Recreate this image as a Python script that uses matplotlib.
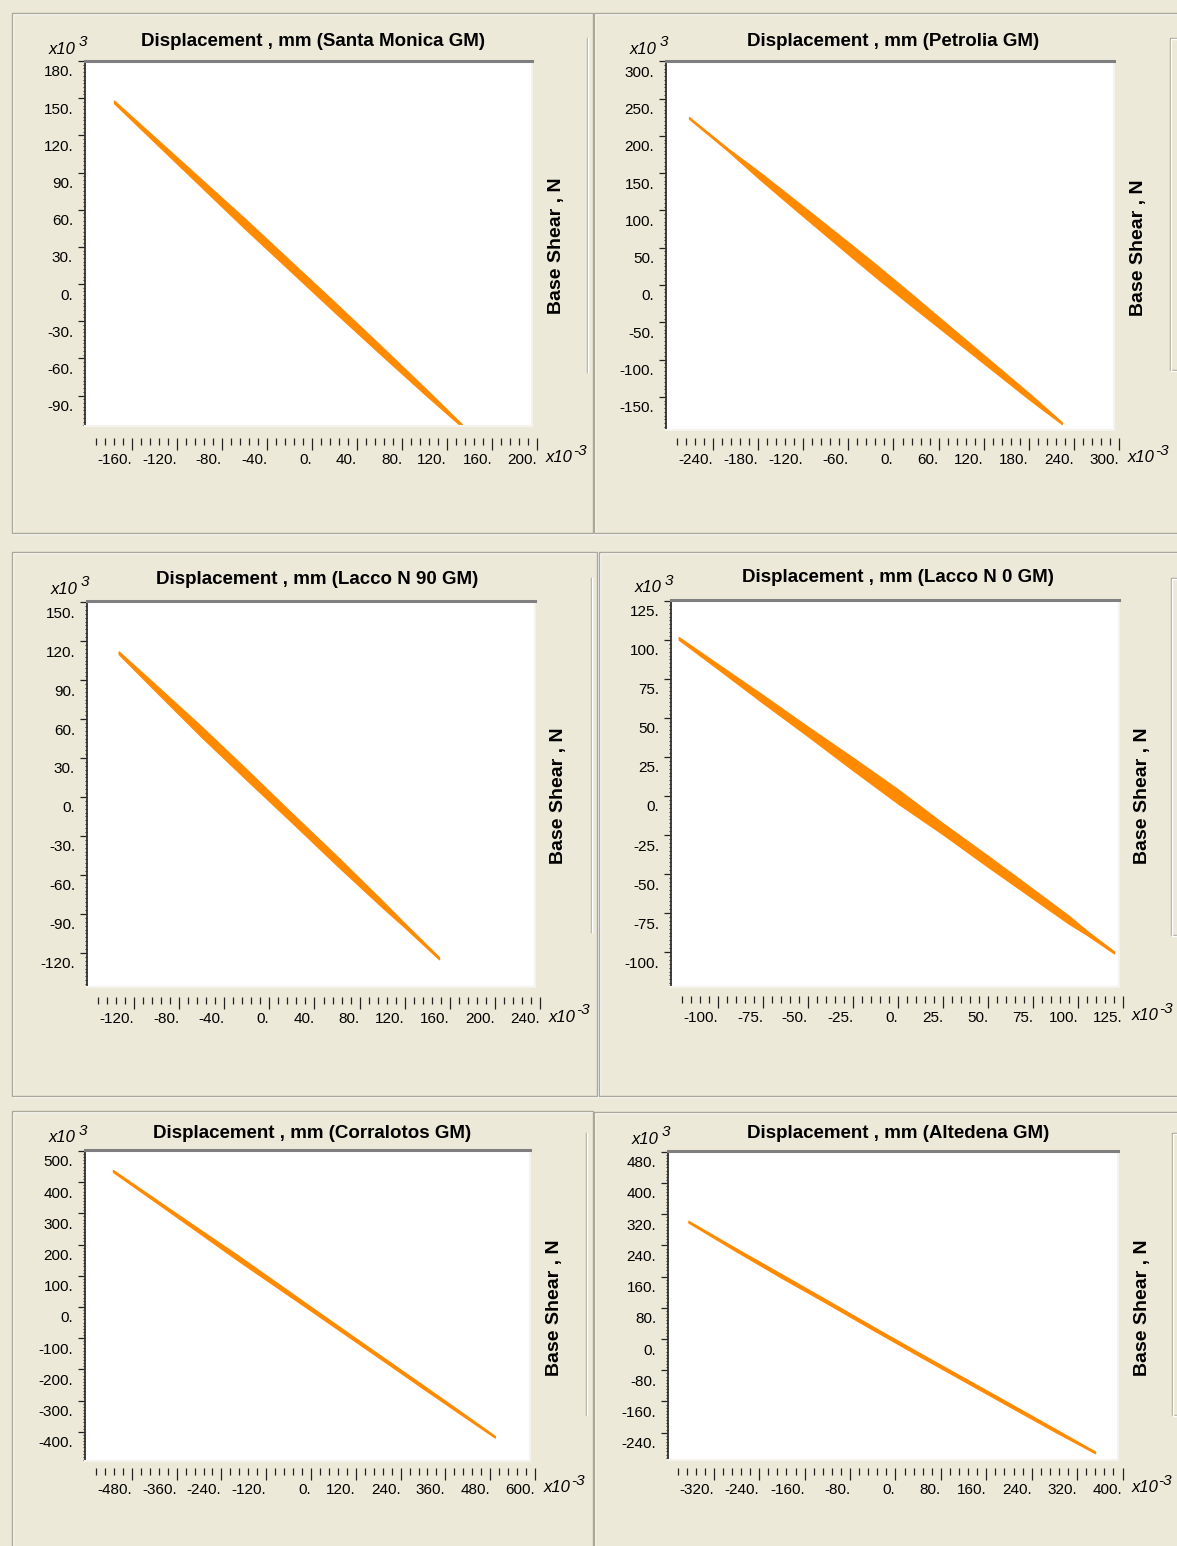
import matplotlib.pyplot as plt
import matplotlib.transforms as mtransforms
from matplotlib.patches import Rectangle
from matplotlib.ticker import MultipleLocator

W, H = 1177, 1546
BG = '#ece9d8'
ORANGE = '#ff8a00'
FONT = 'Liberation Sans'

gm_names = ['Santa Monica', 'Petrolia', 'Lacco N 90', 'Lacco N 0', 'Corralotos', 'Altedena']

# base shear ticks (x10^3) and displacement ticks (x10^-3)
shear_ticks = [
    [-90, -60, -30, 0, 30, 60, 90, 120, 150, 180],
    [-150, -100, -50, 0, 50, 100, 150, 200, 250, 300],
    [-120, -90, -60, -30, 0, 30, 60, 90, 120, 150],
    [-100, -75, -50, -25, 0, 25, 50, 75, 100, 125],
    [-400, -300, -200, -100, 0, 100, 200, 300, 400, 500],
    [-240, -160, -80, 0, 80, 160, 240, 320, 400, 480],
]
disp_ticks = [
    [-160, -120, -80, -40, 0, 40, 80, 120, 160, 200],
    [-240, -180, -120, -60, 0, 60, 120, 180, 240, 300],
    [-120, -80, -40, 0, 40, 80, 120, 160, 200, 240],
    [-100, -75, -50, -25, 0, 25, 50, 75, 100, 125],
    [-480, -360, -240, -120, 0, 120, 240, 360, 480, 600],
    [-320, -240, -160, -80, 0, 80, 160, 240, 320, 400],
]

# hysteresis bands: displacement, upper / lower base shear edge
santa_disp = [-176, -140, -100, -60, -20, 20, 60, 100, 133]
santa_hi = [148, 118.6, 85.8, 53.0, 19.2, -14.6, -48.9, -83.7, -113]
santa_lo = [146, 114.6, 79.8, 45.0, 11.2, -22.6, -55.9, -88.7, -115]

petrolia_disp = [-272, -220, -200, -180, -140, -100, -60, -20, 20, 60, 100, 140, 180, 204, 224]
petrolia_hi = [225, 182.6, 167.6, 152.6, 121.1, 89.1, 57.1, 24.6, -8.9, -42.9, -76.9, -110.9, -144.9, -166.2, -184.2]
petrolia_lo = [223, 179.6, 161.6, 143.6, 109.1, 75.1, 41.1, 7.6, -24.9, -56.9, -88.9, -120.9, -152.9, -171.2, -186.2]

lacco90_disp = [-133.7, -100, -60, -20, 20, 60, 100, 120, 150.4]
lacco90_hi = [112, 85.6, 54.0, 21.0, -12.6, -45.7, -79.8, -97.3, -123.2]
lacco90_lo = [110, 80.6, 46.0, 13.0, -19.6, -52.7, -84.8, -100.3, -124.8]

lacco0_disp = [-121.8, -100, -75, -50, -25, 0, 25, 50, 75, 95, 105, 120]
lacco0_hi = [101.8, 84.4, 64.6, 44.3, 24.5, 4.2, -17.6, -38.4, -59.7, -76.9, -86.5, -99.6]
lacco0_lo = [100.2, 81.4, 59.6, 38.3, 16.5, -4.8, -24.6, -45.4, -65.7, -81.9, -89.0, -100.8]

corral_disp = [-530.7, -400, -300, -200, -100, 0, 100, 200, 300, 400, 492.3]
corral_hi = [438.9, 331.6, 249.8, 168.6, 84.3, 0, -83.8, -167.5, -250.8, -335.0, -413.3]
corral_lo = [432.9, 322.6, 237.8, 152.6, 70.3, -12.0, -94.8, -177.5, -260.8, -343.0, -418.3]

alted_disp = [-364.8, -280, -200, -120, -40, 40, 120, 200, 280, 351.6]
alted_hi = [302.8, 231.5, 165.5, 99, 32, -34, -99, -164, -229.5, -288.4]
alted_lo = [298.8, 224.5, 156.5, 91, 24, -42, -107, -172, -236.5, -292.4]

bands = [
    (santa_disp, santa_hi, santa_lo),
    (petrolia_disp, petrolia_hi, petrolia_lo),
    (lacco90_disp, lacco90_hi, lacco90_lo),
    (lacco0_disp, lacco0_hi, lacco0_lo),
    (corral_disp, corral_hi, corral_lo),
    (alted_disp, alted_hi, alted_lo),
]

# layout in pixels (left, top, right, bottom)
boxes = [(85, 61, 532, 426), (666, 61, 1114, 430), (87, 601, 535, 987),
         (671, 600, 1119, 987), (85, 1150, 530, 1461), (668, 1151, 1118, 1460)]
ylims = [(-114.6, 180), (-194.4, 300.3), (-146.2, 150.8),
         (-122.4, 125.6), (-493.6, 503), (-310, 482)]
rulers = [(96, 537, 438), (677, 1119, 438), (98, 540, 997),
          (682, 1123, 996), (96, 535, 1468), (677.5, 1122.5, 1468)]
title_pos = [(313, 41), (893, 41), (317, 580), (898, 578), (312, 1134), (898, 1134)]
frames = [(12, 13, 593, 533), (594, 13, 1195, 533), (12, 552, 597, 1096),
          (599, 552, 1195, 1096), (12, 1111, 593, 1570), (594, 1112, 1195, 1570)]
side_boxes = [(587, 38, 372), (1170, 38, 370), (591, 578, 932),
              (1171, 578, 935), (586, 1133, 1415), (1172, 1133, 1415)]

fig = plt.figure(figsize=(W / 100, H / 100), dpi=100, facecolor=BG)

bg = fig.add_axes([0, 0, 1, 1], zorder=-1)
bg.set_xlim(0, W)
bg.set_ylim(H, 0)
bg.axis('off')

# etched group boxes
for (x0, y0, x1, y1) in frames:
    bg.add_patch(Rectangle((x0 + 1, y0 + 1), x1 - x0, y1 - y0, fill=False, ec='white', lw=1))
    bg.add_patch(Rectangle((x0, y0), x1 - x0, y1 - y0, fill=False, ec='#aca899', lw=1))
for i, (x, y0, y1) in enumerate(side_boxes):
    if i % 2 == 0:
        bg.plot([x, x], [y0, y1], color='#aca899', lw=1)
        bg.plot([x + 1, x + 1], [y0, y1], color='white', lw=1)
    else:
        bg.add_patch(Rectangle((x, y0), 40, y1 - y0, fill=False, ec='#aca899', lw=1))
        bg.add_patch(Rectangle((x + 1, y0 + 1), 40, y1 - y0, fill=False, ec='white', lw=1))

down = mtransforms.ScaledTranslation(0, -10 / 100, fig.dpi_scale_trans)

for i in range(6):
    l, t, r, b = boxes[i]
    r0, r1, ry = rulers[i]
    step = disp_ticks[i][1] - disp_ticks[i][0]
    v0 = disp_ticks[i][0] - 4 * step / 5
    v1 = disp_ticks[i][-1]
    s = (r1 - r0) / (v1 - v0)

    ax = fig.add_axes([l / W, 1 - b / H, (r - l) / W, (b - t) / H])
    ax.set_facecolor('white')
    ax.set_xlim(v0 + (l - r0) / s, v0 + (r - r0) / s)
    ax.set_ylim(*ylims[i])
    disp, hi, lo = bands[i]
    ax.fill_between(disp, lo, hi, color=ORANGE, lw=1.0)

    ax.set_xticks([])
    yt = shear_ticks[i]
    ax.set_yticks(yt, labels=[f'{v}.' for v in yt])
    ax.yaxis.set_minor_locator(MultipleLocator((yt[1] - yt[0]) / 10))
    ax.tick_params(axis='y', which='major', length=5, width=0.9, color='#222222',
                   pad=3.6, labelsize=11)
    ax.tick_params(axis='y', which='minor', length=1.6, width=0.8, color='#333333')
    for lbl in ax.get_yticklabels():
        lbl.set_family(FONT)
        lbl.set_transform(lbl.get_transform() + down)
    ax.spines['top'].set_color('#7f7f7f')
    ax.spines['top'].set_linewidth(2.2)
    ax.spines['left'].set_color('#303030')
    ax.spines['left'].set_linewidth(1.3)
    ax.spines['right'].set_color('#f4f3ee')
    ax.spines['bottom'].set_color('#f4f3ee')
    ax.spines['right'].set_linewidth(1.5)
    ax.spines['bottom'].set_linewidth(1.5)

    # detached displacement scale under the plot
    rax = fig.add_axes([r0 / W, 1 - ry / H, (r1 - r0) / W, 0.0001])
    rax.patch.set_alpha(0)
    for sp in rax.spines.values():
        sp.set_visible(False)
    rax.set_xlim(v0, v1)
    rax.set_yticks([])
    xt = disp_ticks[i]
    rax.set_xticks(xt, labels=[f'{v}.' for v in xt])
    rax.xaxis.set_minor_locator(MultipleLocator(step / 5))
    rax.tick_params(axis='x', which='major', length=8.6, width=0.9, color='#222222',
                    direction='out', pad=2.5, labelsize=11)
    rax.tick_params(axis='x', which='minor', length=5, width=0.9, color='#222222',
                    direction='out')
    for lbl in rax.get_xticklabels():
        lbl.set_ha('right')
        lbl.set_family(FONT)

    tx, ty = title_pos[i]
    bg.text(tx, ty, f'Displacement , mm ({gm_names[i]} GM)', ha='center', va='center',
            fontsize=13.5, fontweight='bold', family=FONT)
    bg.text(r + 24, (t + b) / 2 + 2, 'Base Shear , N', rotation=90, ha='center',
            va='center', fontsize=14, fontweight='bold', family=FONT)
    # multipliers
    bg.text(l - 9, t - 12, 'x10', ha='right', va='center', fontsize=12,
            style='italic', family=FONT)
    bg.text(l - 6, t - 19, '3', ha='left', va='center', fontsize=11,
            style='italic', family=FONT)
    bg.text(r1 + 9, ry + 20, 'x10', ha='left', va='center', fontsize=12,
            style='italic', family=FONT)
    bg.text(r1 + 36, ry + 13, '-3', ha='left', va='center', fontsize=11,
            style='italic', family=FONT)

fig.savefig('out.png', dpi=100, facecolor=BG)
